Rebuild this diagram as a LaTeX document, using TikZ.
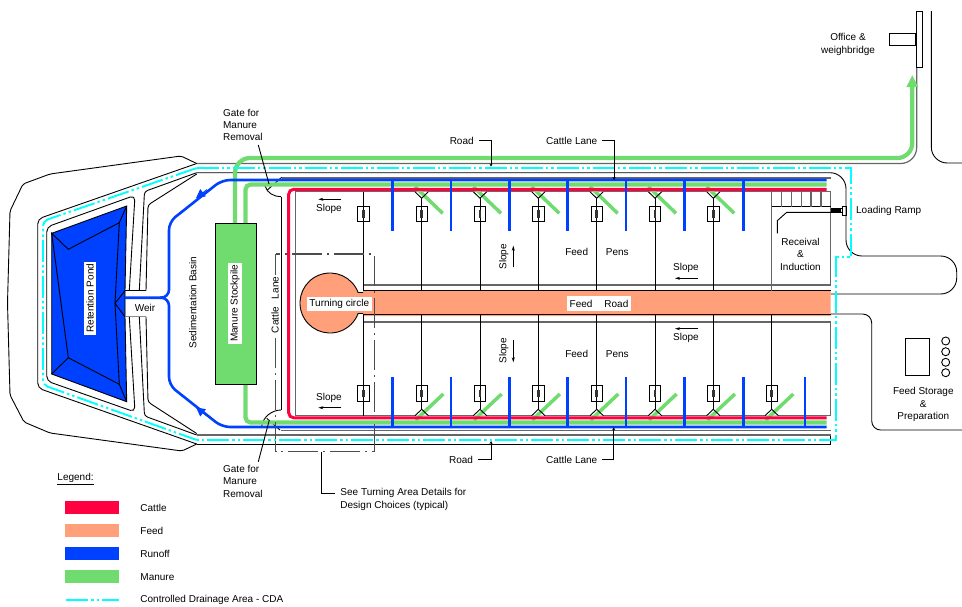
\documentclass[tikz,border=0pt]{standalone}
\usepackage{fontspec}
\setmainfont{Liberation Sans}
\usetikzlibrary{arrows.meta}
\definecolor{cattlered}{RGB}{255,0,64}
\definecolor{feedorange}{RGB}{255,160,122}
\definecolor{runoffblue}{RGB}{0,64,255}
\definecolor{manuregreen}{RGB}{112,220,112}
\definecolor{cdacyan}{RGB}{0,255,255}
\tikzstyle{plan}=[x=1pt, y=-1pt, line width=0.9pt]
\tikzstyle{lbl}=[font=\fontsize{10}{12.4}\selectfont, inner sep=0pt, align=center]
\tikzstyle{tag}=[lbl, fill=white]
\tikzstyle{lftlbl}=[lbl, align=left, anchor=west]
\tikzstyle{wallgray}=[draw=black!60, line width=1.2pt]
\tikzstyle{cda}=[cdacyan, line width=1.9pt, dash pattern=on 22pt off 3pt on 2.5pt off 3pt on 2.5pt off 3pt]
\tikzstyle{turning}=[draw=black!70, line width=1.1pt, dash pattern=on 30pt off 5pt on 2pt off 5pt]
\tikzstyle{cattleline}=[cattlered, line width=3pt, rounded corners=5pt]
\tikzstyle{runoffline}=[runoffblue, line width=2.6pt]
\tikzstyle{manureline}=[manuregreen, line width=4.2pt]
\tikzstyle{trough}=[draw, minimum width=11.3pt, minimum height=15.7pt, inner sep=0pt]
\tikzstyle{troughin}=[fill=black!80, minimum width=2.8pt, minimum height=7.7pt, inner sep=0pt]
\tikzstyle{swatch}=[minimum width=53.7pt, minimum height=13.3pt, inner sep=0pt]
\tikzstyle{slopearrow}=[-{Stealth[length=5pt,width=3pt]}]
\tikzstyle{leader}=[-{Stealth[length=3pt,width=3pt]}]

\begin{document}
\begin{tikzpicture}[plan]
  \useasboundingbox (0,0) rectangle (962,606);
  % outer bank and road
  \draw[rounded corners=2pt] (196.7,163.5) -- (181,156) -- (50,174) -- (23,184) -- (10,211) -- (7.5,303)
    -- (10,395) -- (24,422) -- (50,433) -- (182,451) -- (196.7,444);
  \draw[wallgray, rounded corners=16pt] (196.7,163.5) -- (916.7,163.5) -- (916.7,67.3);
  \draw[rounded corners=5pt] (196.7,163.5) -- (37.7,219) -- (37.7,388) -- (196.7,444);
  \draw (196.7,444) -- (830.7,444) -- (830.7,435);
  \draw[wallgray] (830.7,435) -- (196.7,435);
  \draw[rounded corners=16pt] (931.3,11) -- (931.3,163) -- (962,163);
  \draw (916.7,11.3) rectangle (922.7,67.3);
  \draw (889.3,33.3) rectangle (915,45.7);
  % pond
  \draw[rounded corners=5pt] (129.3,290.7) -- (135,195.3) -- (46.7,227) -- (46.7,381) -- (135,412) -- (129.3,316.7);
  \draw[rounded corners=3pt] (139.3,290.7) -- (144.5,191.5) -- (196.7,172.7);
  \draw[rounded corners=3pt] (139.3,316.7) -- (144.5,416) -- (196.7,435);
  \draw[rounded corners=3pt] (146,290.7) -- (148,205) -- (196.7,174);
  \draw[rounded corners=3pt] (146,316.7) -- (148,402) -- (196.7,433.5);
  \draw[fill=runoffblue] (51.7,233.3) -- (126.7,206) -- (125,290.7) -- (125,316.7) -- (126.7,401.7) -- (51.7,374) -- cycle;
  \draw (51.7,233.3) -- (68.3,249.3) -- (119.3,222.7) -- (115,303.3) -- (119.3,384.3) -- (68.3,357.7) -- cycle;
  \draw (126.7,206) -- (119.3,222.7);
  \draw (126.7,401.7) -- (119.3,384.3);
  \draw (51.7,374) -- (68.3,357.7);
  \draw (115,303.3) -- (125,290.7);
  \draw (115,303.3) -- (125,316.7);
  \draw (125,290.7) -- (146,290.7);
  \draw[draw=black!45] (125,290.7) -- (125,316.7) -- (146,316.7);
  % road edges and pens
  \draw[rounded corners=16pt] (196.7,172.7) -- (846,172.7) -- (846,256) -- (956.7,256) -- (956.7,294) -- (830.7,294);
  \draw[rounded corners=9pt] (830.7,314) -- (871.7,314) -- (871.7,430) -- (962,430);
  \draw[wallgray] (281.7,178) -- (830.7,178);
  \draw[wallgray] (281,430.3) -- (830.7,430.3);
  \draw (281,196.7) -- (281,410);
  \draw (265,186) .. controls (267,193) and (274,196.7) .. (281,196.7);
  \draw (261.7,426) .. controls (263,417) and (272,410) .. (281,410);
  \draw (281.7,177.3) -- (267.3,190);
  \draw (280,430) -- (266.7,418.3);
  \draw[wallgray] (295.7,415.7) -- (295.7,191.7) -- (830.7,191.7) -- (830.7,285);
  \draw[wallgray] (295.7,415.7) -- (830.7,415.7) -- (830.7,322);
  % feed road
  \fill[feedorange] (830.7,291) -- (363,291) -- (363,292.5) -- (358.1,292.5)
    arc[start angle=-20.5, end angle=-339.5, radius=30] -- (363,313.5) -- (363,316) -- (830.7,316) -- cycle;
  \draw (363,290.5) -- (830.7,290.5);
  \draw (363,314) -- (830.7,314);
  \draw[wallgray] (363,285) -- (830.7,285);
  \draw[wallgray] (363,322) -- (830.7,322);
  \draw (363,292.5) -- (358.1,292.5) arc[start angle=-20.5, end angle=-339.5, radius=30] -- (363,313.5);
  % pens
  \foreach \x in {363.3,421.7,480,538.3,596.7,655,713.3} {
    \draw (\x,198.3) -- (\x,290.5);
    \node[trough] at (\x,213.8) {};
    \node[troughin] at (\x,213.8) {};
  }
  \foreach \x in {363.3,421.7,480,538.3,596.7,655,713.3,771.7} {
    \draw (\x,314) -- (\x,409.3);
    \node[trough] at (\x,393.5) {};
    \node[troughin] at (\x,393.5) {};
  }
  \draw (363.3,191.7) -- (363.3,198.3);
  \draw (363.3,409.3) -- (363.3,415.7);
  \draw[wallgray] (771.7,191.7) -- (771.7,290.5);
  \foreach \x in {421.7,480,538.3,596.7,655,713.3} {
    \fill[white] (\x-6.7,191.7) -- (\x,198.3) -- (\x+6.7,191.7) -- cycle;
    \draw[manuregreen, line width=3.5pt] (\x-6.7,186.7) -- (\x+21,213.3);
    \draw (\x-6.7,191.7) -- (\x,198.3) -- (\x+6.7,191.7);
  }
  \foreach \x in {421.7,480,538.3,596.7,655,713.3,771.7} {
    \fill[white] (\x-6.7,415.7) -- (\x,409.3) -- (\x+6.7,415.7) -- cycle;
    \draw[manuregreen, line width=3.5pt] (\x-6,420) -- (\x+21.6,394);
    \draw (\x-6.7,415.7) -- (\x,409.3) -- (\x+6.7,415.7);
  }
  % receival
  \draw (771.7,206.7) -- (830.7,206.7);
  \foreach \x in {781.7,791.7,801.7,811,821} {
    \draw[wallgray] (\x,191.7) -- (\x,206.7);
  }
  \draw (777.3,233.3) -- (777.3,220.7) -- (786.7,212.3) -- (842,212.3);
  \draw (831,208.5) -- (842,208.5);
  \foreach \x in {832,834,836,838,840} {
    \draw[line width=1.2pt] (\x,208.5) -- (\x,212.3);
  }
  \draw (842,206.7) rectangle (846,215);
  % flows
  \draw[manureline, rounded corners=5pt] (245.5,223.3) -- (245.5,184.5) -- (826.7,184.5);
  \draw[manureline, rounded corners=5pt] (245.5,384) -- (245.5,422.5) -- (826.7,422.5);
  \draw[manureline, rounded corners=15pt, -{Triangle[length=12pt,width=11pt]}] (235,223.3) -- (235,158) -- (912.3,158) -- (912.3,75);
  \draw[cattleline] (826.7,189.3) -- (288.7,189.3) -- (288.7,417.8) -- (826.7,417.8);
  \draw[runoffline, rounded corners=8pt] (125,297.7) -- (169,297.7) -- (169,222) -- (222,180) -- (826.7,180);
  \draw[runoffline, rounded corners=8pt] (160,297.7) -- (169,297.7) -- (169,385) -- (222,427) -- (826.7,427);
  \foreach \x in {392.7,451,509.3,567.7,626,684.3,743.3} {
    \draw[runoffline] (\x,180) -- (\x,230.7);
  }
  \foreach \x in {392.7,451,509.3,567.7,626,684.3,743.3,805} {
    \draw[runoffline] (\x,427) -- (\x,376.7);
  }
  \coordinate (runoffa) at (207,189.6);
  \coordinate (runoffb) at (196,198.2);
  \coordinate (runoffc) at (207,415.9);
  \coordinate (runoffd) at (196,407.3);
  \draw[runoffblue, line width=1pt, -{Triangle[length=9pt,width=9pt]}] (runoffa) -- (runoffb);
  \draw[runoffblue, line width=1pt, -{Triangle[length=9pt,width=9pt]}] (runoffc) -- (runoffd);
  % stockpile
  \node[draw, fill=manuregreen, minimum width=41.7pt, minimum height=160.7pt, inner sep=0pt] (stockpile) at (235.8,303.7) {};
  % turning area
  \draw[turning] (275.7,254) rectangle (374.3,451.5);
  % cda
  \draw[cda, rounded corners=5pt] (196.7,168) -- (43,221) -- (43,385) -- (196.7,440);
  \draw[cda] (196.7,168) -- (851,168) -- (851,257.3) -- (836,257.3) -- (836,440) -- (196.7,440);
  % feed storage
  \draw (905.3,338.7) rectangle (929.7,375.7);
  \foreach \y in {341,351.7,362.3,372.7} {
    \draw (945.7,\y) circle (4);
  }
  % labels
  \node[tag, rotate=90, inner sep=2pt] (pond) at (90,298.3) {Retention Pond};
  \node[lbl] (weir) at (145,308.3) {Weir};
  \node[lbl, rotate=90] (basin) at (192.7,302.7) {Sedimentation Basin};
  \node[tag, rotate=90, inner sep=2pt] (pile) at (235,303.3) {Manure Stockpile};
  \node[tag, rotate=90, inner sep=2pt] (lane) at (275,305) {Cattle\hspace{8pt}Lane};
  \node[tag, inner sep=2.5pt] (circ) at (339.3,304.3) {Turning circle};
  \node[tag, inner ysep=3.5pt, inner xsep=2.5pt] (feedroad) at (599,303.5) {Feed\hspace{12pt}Road};
  \node[lbl] (feedt) at (576.7,252) {Feed};
  \node[lbl] (penst) at (617.3,252) {Pens};
  \node[lbl] (feedb) at (576.7,354.3) {Feed};
  \node[lbl] (pensb) at (617.3,354.3) {Pens};
  \node[lbl] (receival) at (800.5,254.3) {Receival\\[0.3pt]\&\\[0.3pt]Induction};
  \node[lftlbl] (ramp) at (855.7,210.7) {Loading Ramp};
  \node[lbl] (office) at (848,44.3) {Office \&\\weighbridge};
  \node[lbl] (storage) at (923.3,404.7) {Feed Storage\\\&\\Preparation};
  % slopes
  \node[lbl] (slopea) at (329,209.3) {Slope};
  \node[lbl, rotate=90] (slopeb) at (503.7,256.7) {Slope};
  \node[lbl] (slopec) at (686,268) {Slope};
  \node[lbl] (sloped) at (686,337.7) {Slope};
  \node[lbl, rotate=90] (slopee) at (503.7,350.7) {Slope};
  \node[lbl] (slopef) at (329,397.7) {Slope};
  \draw[slopearrow] (341,199.3) -- (318.3,199.3);
  \draw[slopearrow] (513.3,267.3) -- (513.3,245.7);
  \draw[slopearrow] (698.3,278.3) -- (675,278.3);
  \draw[slopearrow] (698.3,328.7) -- (675,328.7);
  \draw[slopearrow] (513.3,340) -- (513.3,362.3);
  \draw[slopearrow] (341,407.7) -- (318.3,407.7);
  % leaders
  \node[lftlbl] (gatetop) at (222.7,125) {Gate for\\Manure\\Removal};
  \node[lftlbl] (gatebot) at (222.7,481.3) {Gate for\\Manure\\Removal};
  \node[lbl] (roadtop) at (461.7,140.7) {Road};
  \node[lbl] (roadbot) at (461,460) {Road};
  \node[lbl] (lanetop) at (571.7,140.7) {Cattle Lane};
  \node[lbl] (lanebot) at (571.7,460) {Cattle Lane};
  \node[lftlbl] (details) at (340,499.5) {See Turning Area Details for\\Design Choices (typical)};
  \coordinate (gatea) at (258.3,145);
  \coordinate (gateb) at (269,184);
  \coordinate (gatec) at (258.3,461.7);
  \coordinate (gated) at (269.3,420);
  \coordinate (roada) at (491,166.7);
  \coordinate (roadb) at (491,441);
  \coordinate (lanea) at (614,180);
  \coordinate (laneb) at (613.7,427.3);
  \coordinate (turna) at (321,451.5);
  \coordinate (turnb) at (335,493.3);
  \draw (gatea) -- (gateb);
  \draw (gatec) -- (gated);
  \draw[leader] ([xshift=5pt,yshift=0.7pt]roadtop.east) -| (roada);
  \draw[leader] ([xshift=5pt,yshift=0.5pt]roadbot.east) -| (roadb);
  \draw[leader] ([xshift=4pt,yshift=0.7pt]lanetop.east) -| (lanea);
  \draw[leader] ([xshift=4pt,yshift=0.5pt]lanebot.east) -| (laneb);
  \draw (turna) |- (turnb);
  % legend
  \node[lftlbl] (legend) at (57,478.7) {\underline{Legend:}};
  \node[swatch, fill=cattlered] (swcattle) at (92,507.7) {};
  \node[swatch, fill=feedorange] (swfeed) at (92,530.7) {};
  \node[swatch, fill=runoffblue] (swrunoff) at (92,553.7) {};
  \node[swatch, fill=manuregreen] (swmanure) at (92,576.7) {};
  \coordinate (cdaa) at (66,600.3);
  \coordinate (cdab) at (119,600.3);
  \draw[cda] (cdaa) -- (cdab);
  \node[lftlbl] (lgcattle) at (140,508) {Cattle};
  \node[lftlbl] (lgfeed) at (140,531) {Feed};
  \node[lftlbl] (lgrunoff) at (140,553.7) {Runoff};
  \node[lftlbl] (lgmanure) at (140,577) {Manure};
  \node[lftlbl] (lgcda) at (140,600) {Controlled Drainage Area - CDA};
\end{tikzpicture}
\end{document}
